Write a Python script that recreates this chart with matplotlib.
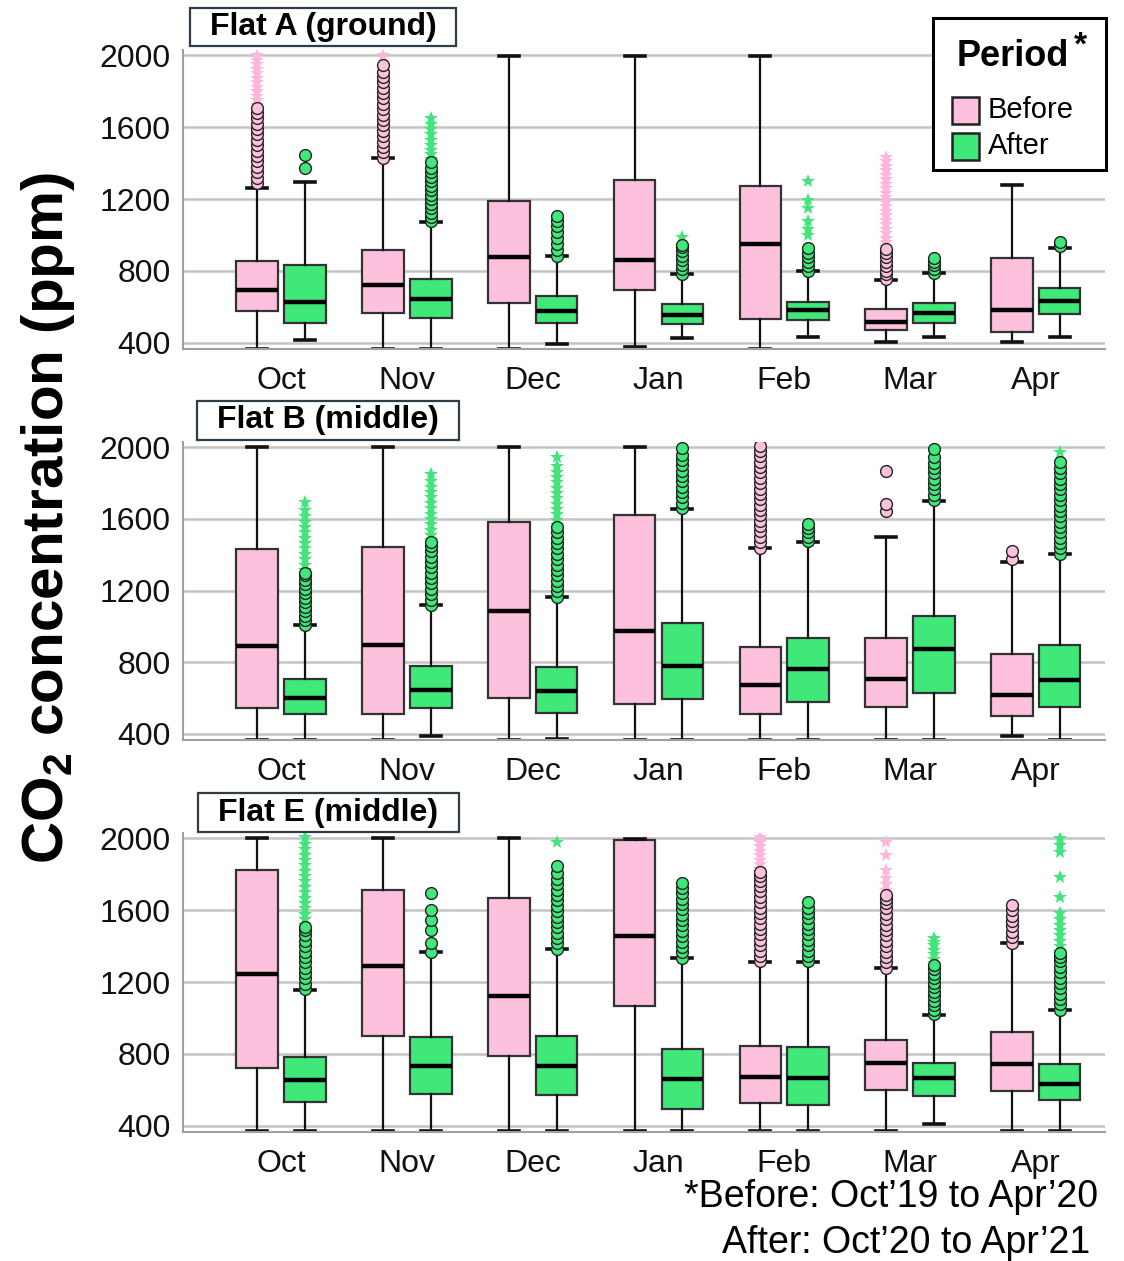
import numpy as np
import matplotlib.pyplot as plt
from matplotlib.patches import Rectangle

plt.rcParams['font.family'] = ['Liberation Sans', 'DejaVu Sans']
plt.rcParams['mathtext.default'] = 'regular'

months = ['Oct', 'Nov', 'Dec', 'Jan', 'Feb', 'Mar', 'Apr']
titles = ['Flat A (ground)', 'Flat B (middle)', 'Flat E (middle)']
periods = ['Before', 'After']

# lower whisker, Q1, median, Q3, upper whisker (ppm)
a_before = [[367, 577, 694, 857, 1261], [367, 567, 724, 915, 1428], [367, 619, 876, 1187, 1996],
            [378, 696, 863, 1307, 1996], [363, 530, 950, 1270, 1996], [406, 470, 517, 585, 752],
            [404, 461, 580, 869, 1280]]
a_after = [[415, 511, 626, 831, 1293], [367, 539, 644, 756, 1070], [391, 511, 576, 659, 881],
           [428, 502, 557, 613, 780], [433, 526, 580, 628, 798], [433, 511, 567, 619, 789],
           [431, 561, 632, 706, 928]]
b_before = [[367, 545, 889, 1433, 2000], [367, 508, 893, 1442, 2000], [367, 601, 1088, 1581, 2000],
            [367, 567, 973, 1624, 2000], [367, 508, 673, 884, 1436], [367, 549, 705, 934, 1498],
            [387, 499, 614, 843, 1358]]
b_after = [[367, 508, 599, 707, 1005], [385, 545, 646, 776, 1120], [372, 517, 636, 772, 1163],
           [367, 592, 781, 1020, 1656], [367, 577, 759, 934, 1470], [367, 629, 871, 1060, 1702],
           [367, 549, 701, 897, 1405]]
e_before = [[368, 724, 1244, 1824, 2000], [368, 897, 1292, 1713, 2000], [368, 786, 1123, 1670, 2000],
            [368, 1064, 1459, 1991, 1996], [368, 526, 671, 845, 1314], [368, 600, 749, 878, 1277],
            [368, 591, 745, 921, 1420]]
e_after = [[368, 532, 652, 780, 1156], [368, 578, 734, 893, 1370], [368, 572, 730, 897, 1383],
           [368, 493, 660, 826, 1333], [368, 517, 665, 836, 1314], [409, 567, 665, 749, 1017],
           [368, 541, 630, 743, 1045]]

# outliers (circles) and extreme values (stars)
a_before_out = [[1290, 1320, 1350, 1380, 1410, 1440, 1470, 1500, 1530, 1560, 1590, 1620, 1650, 1680, 1705],
                [1430, 1460, 1490, 1520, 1550, 1580, 1610, 1640, 1670, 1700, 1730, 1760, 1790, 1820, 1850,
                 1880, 1910, 1945],
                [], [], [], [755, 780, 800, 825, 850, 875, 900, 920], []]
a_before_ext = [[1725, 1750, 1775, 1800, 1825, 1850, 1875, 1900, 1925, 1950, 1975, 2000],
                [2000], [], [], [],
                [935, 960, 985, 1010, 1035, 1060, 1085, 1110, 1135, 1160, 1185, 1210, 1235, 1260, 1285,
                 1310, 1335, 1360, 1385, 1410, 1435],
                []]
a_after_out = [[1372, 1446],
               [1075, 1100, 1125, 1150, 1175, 1200, 1225, 1250, 1275, 1300, 1325, 1350, 1375, 1405],
               [885, 918, 950, 983, 1015, 1048, 1080, 1104],
               [785, 810, 835, 860, 885, 910, 935, 946],
               [800, 825, 850, 875, 900, 928],
               [790, 810, 830, 850, 870],
               [937, 962]]
a_after_ext = [[], [1425, 1450, 1475, 1500, 1530, 1560, 1590, 1620, 1650], [], [990],
               [1002, 1035, 1076, 1150, 1196, 1298], [], []]

b_before_out = [[], [], [], [],
                [1440, 1470, 1500, 1530, 1560, 1590, 1620, 1650, 1680, 1710, 1740, 1770, 1800, 1830, 1860,
                 1890, 1920, 1950, 1980, 2005],
                [1647, 1684, 1870],
                [1377, 1423]]
b_before_ext = [[], [], [], [], [], [], []]
b_after_out = [[1010, 1035, 1060, 1085, 1110, 1135, 1160, 1185, 1210, 1235, 1260, 1285, 1300],
               [1120, 1150, 1180, 1210, 1240, 1270, 1300, 1330, 1360, 1390, 1420, 1450, 1470],
               [1165, 1195, 1225, 1255, 1285, 1315, 1345, 1375, 1405, 1435, 1465, 1495, 1525, 1553],
               [1660, 1690, 1720, 1750, 1780, 1810, 1840, 1870, 1900, 1930, 1960, 1995],
               [1475, 1500, 1525, 1550, 1572],
               [1705, 1735, 1765, 1795, 1825, 1855, 1885, 1915, 1945, 1990],
               [1405, 1435, 1465, 1495, 1525, 1555, 1585, 1615, 1645, 1675, 1705, 1735, 1765, 1795, 1825,
                1855, 1885, 1916]]
b_after_ext = [[1315, 1345, 1375, 1405, 1435, 1465, 1495, 1525, 1555, 1585, 1615, 1650, 1693],
               [1480, 1510, 1540, 1570, 1600, 1630, 1660, 1690, 1720, 1750, 1780, 1810, 1850],
               [1565, 1595, 1625, 1655, 1685, 1715, 1745, 1775, 1805, 1835, 1865, 1895, 1944],
               [], [], [], [1972]]

e_before_out = [[], [], [], [],
                [1315, 1345, 1375, 1405, 1435, 1465, 1495, 1525, 1555, 1585, 1615, 1645, 1675, 1705,
                 1735, 1765, 1790, 1815],
                [1280, 1310, 1340, 1370, 1400, 1430, 1460, 1490, 1520, 1550, 1580, 1610, 1640, 1665, 1685],
                [1420, 1450, 1480, 1510, 1540, 1570, 1600, 1629]]
e_before_ext = [[], [], [], [],
                [1830, 1855, 1880, 1905, 1930, 1955, 1980, 2005],
                [1713, 1745, 1782, 1824, 1907, 1982],
                []]
e_after_out = [[1160, 1190, 1220, 1250, 1280, 1310, 1340, 1370, 1400, 1430, 1460, 1490, 1509],
               [1370, 1416, 1490, 1546, 1601, 1694],
               [1385, 1415, 1445, 1475, 1505, 1535, 1565, 1595, 1625, 1655, 1685, 1715, 1745, 1775,
                1805, 1846],
               [1335, 1365, 1395, 1425, 1455, 1485, 1515, 1545, 1575, 1605, 1635, 1665, 1695, 1725, 1750],
               [1315, 1345, 1375, 1405, 1435, 1465, 1495, 1525, 1555, 1585, 1615, 1648],
               [1020, 1045, 1070, 1095, 1120, 1145, 1170, 1195, 1220, 1245, 1270, 1295],
               [1045, 1075, 1105, 1135, 1165, 1195, 1225, 1255, 1285, 1315, 1340, 1360]]
e_after_ext = [[1520, 1550, 1580, 1610, 1640, 1670, 1700, 1730, 1760, 1790, 1820, 1850, 1880, 1910,
                1940, 1970, 2005],
               [], [1982], [], [],
               [1305, 1330, 1355, 1380, 1405, 1425, 1444],
               [1370, 1400, 1430, 1460, 1490, 1520, 1550, 1583, 1676, 1787, 1926, 1963, 2000]]

pink = '#fdc1de'
green = '#40e87a'
pink_star = '#ffb6da'
green_star = '#44e47c'

panels = [(a_before, a_after, a_before_out, a_after_out, a_before_ext, a_after_ext),
          (b_before, b_after, b_before_out, b_after_out, b_before_ext, b_after_ext),
          (e_before, e_after, e_before_out, e_after_out, e_before_ext, e_after_ext)]

fig = plt.figure(figsize=(11.24, 12.61), dpi=100)
W, H = 1124, 1261


def fx(px):
    return px / W


def fy(py):
    return 1 - py / H


# axes rectangles in pixels: left, top, right, bottom
boxes_px = [(183, 50, 1105, 349), (183, 442, 1105, 740), (183, 833, 1105, 1132)]
title_px = [(190, 8, 456, 46), (197, 401, 459, 440), (198, 793, 459, 832)]

x = np.arange(len(months))
off = 0.19
width = 0.33


def make_stats(five, out):
    stats = []
    for f, o in zip(five, out):
        stats.append(dict(whislo=f[0], q1=f[1], med=f[2], q3=f[3], whishi=f[4], fliers=o))
    return stats


for k, (bef, aft, bef_o, aft_o, bef_x, aft_x) in enumerate(panels):
    l, t, r, b = boxes_px[k]
    ax = fig.add_axes([fx(l), fy(b), (r - l) / W, (b - t) / H])

    for five, out, ext, pos, col, scol in [(bef, bef_o, bef_x, x - off, pink, pink_star),
                                           (aft, aft_o, aft_x, x + off, green, green_star)]:
        ax.bxp(make_stats(five, out), positions=pos, widths=width, capwidths=0.16,
               patch_artist=True, manage_ticks=False,
               boxprops=dict(facecolor=col, edgecolor='#333333', linewidth=1.6),
               medianprops=dict(color='black', linewidth=3.2),
               whiskerprops=dict(color='#111111', linewidth=1.6),
               capprops=dict(color='#111111', linewidth=2.6),
               flierprops=dict(marker='o', markerfacecolor=col, markeredgecolor='#222222',
                               markersize=8.5, markeredgewidth=1.0))
        for p, e in zip(pos, ext):
            if e:
                ax.plot([p] * len(e), e, linestyle='none', marker='*', color=scol,
                        markersize=10, markeredgewidth=0, zorder=1)

    ax.set_xlim(-0.78, 6.55)
    ax.set_ylim(365, 2030)
    ax.set_yticks([400, 800, 1200, 1600, 2000])
    ax.set_xticks(x)
    ax.set_xticklabels(months)
    ax.yaxis.grid(True, color='#c4c4c4', linewidth=1.8)
    ax.set_axisbelow(True)
    ax.tick_params(axis='both', length=0, labelsize=23, colors='#111111')
    ax.tick_params(axis='x', pad=12)
    ax.tick_params(axis='y', pad=9)
    for s in ['top', 'right']:
        ax.spines[s].set_visible(False)
    for s in ['left', 'bottom']:
        ax.spines[s].set_color('#a0a0a0')
        ax.spines[s].set_linewidth(1.5)

    # boxed panel title
    tl, tt, tr, tb = title_px[k]
    fig.add_artist(Rectangle((fx(tl), fy(tb)), (tr - tl) / W, (tb - tt) / H,
                             transform=fig.transFigure, facecolor='white',
                             edgecolor='#2f3b45', linewidth=1.6))
    fig.text(fx((tl + tr) / 2), fy((tt + tb) / 2), titles[k], ha='center', va='center',
             fontsize=23, fontweight='bold')

# legend box drawn by hand so the title sits apart from the entries
fig.add_artist(Rectangle((fx(933), fy(170)), 173 / W, 152 / H, transform=fig.transFigure,
                         facecolor='white', edgecolor='black', linewidth=2.2, zorder=5))
fig.text(fx(1013), fy(57), 'Period', ha='center', va='center', fontsize=26,
         fontweight='bold', zorder=6)
fig.text(fx(1080), fy(46), '*', ha='center', va='center', fontsize=24,
         fontweight='bold', zorder=6)
for col, lab, yc in zip([pink, green], periods, [110, 146]):
    fig.add_artist(Rectangle((fx(952), fy(yc + 14)), 27 / W, 27 / H, transform=fig.transFigure,
                             facecolor=col, edgecolor='#222222', linewidth=1.8, zorder=6))
    fig.text(fx(988), fy(yc), lab, ha='left', va='center', fontsize=21, zorder=6)

fig.text(fx(48), fy(518), 'CO$_2$ concentration (ppm)', rotation=90, ha='center',
         va='center', fontsize=42, fontweight='bold')

fig.text(fx(1098), fy(1197), '*Before: Oct\u201919 to Apr\u201920', ha='right', va='center',
         fontsize=27)
fig.text(fx(1090), fy(1243), 'After: Oct\u201920 to Apr\u201921', ha='right', va='center',
         fontsize=27)

fig.savefig('out.png', dpi=100)
